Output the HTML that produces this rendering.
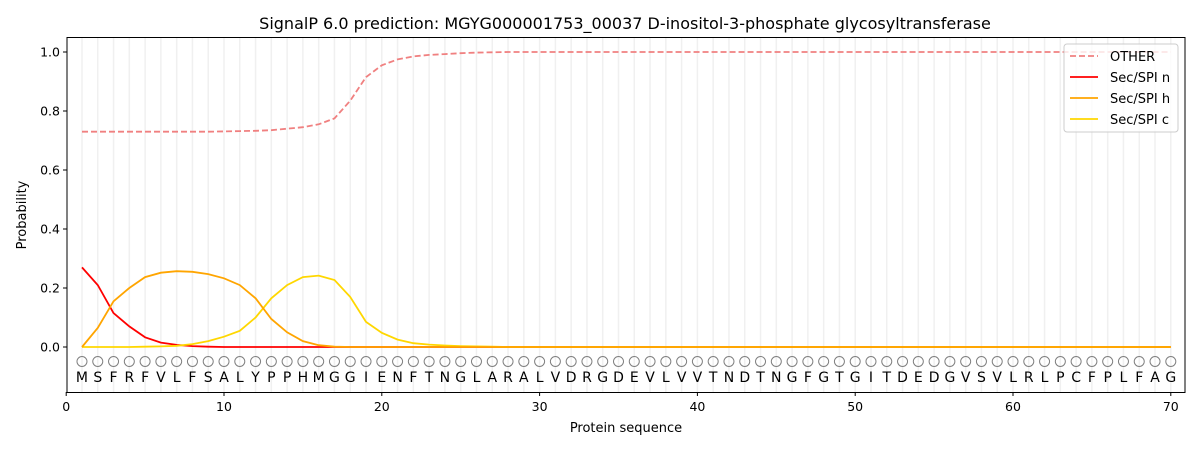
<!DOCTYPE html>
<html><head><meta charset="utf-8"><style>
html,body{margin:0;padding:0;background:#fff;}
svg{display:block;font-family:"DejaVu Sans","Liberation Sans",sans-serif;}
</style></head><body>
<svg id="s" width="1200" height="450" xmlns="http://www.w3.org/2000/svg">
<rect width="1200" height="450" fill="#fff"/>
<g id="grid"></g>
<g id="circ"></g>
<g id="let" font-size="14" fill="#000" text-anchor="middle"></g>
<g id="lines" fill="none" stroke-width="1.8"></g>
<rect x="67" y="37.5" width="1118" height="355" fill="none" stroke="#000" stroke-width="1"/>
<g id="ticks" font-size="12.5" fill="#000"></g>
<text x="625" y="29" font-size="16" text-anchor="middle">SignalP 6.0 prediction: MGYG000001753_00037 D-inositol-3-phosphate glycosyltransferase</text>
<text x="626" y="432" font-size="13" text-anchor="middle">Protein sequence</text>
<text transform="translate(26,215) rotate(-90)" font-size="13" text-anchor="middle">Probability</text>
<g font-size="13">
<rect x="1064" y="44" width="114" height="88" rx="3" fill="#fff" fill-opacity="0.8" stroke="#ccc"/>
<line x1="1070" y1="56" x2="1098" y2="56" stroke="#f08080" stroke-width="1.8" stroke-dasharray="6,3"/>
<text x="1110" y="61">OTHER</text>
<line x1="1070" y1="77" x2="1098" y2="77" stroke="#ff0000" stroke-width="1.8"/>
<text x="1110" y="82">Sec/SPI n</text>
<line x1="1070" y1="98" x2="1098" y2="98" stroke="#ffa500" stroke-width="1.8"/>
<text x="1110" y="103">Sec/SPI h</text>
<line x1="1070" y1="119" x2="1098" y2="119" stroke="#ffd700" stroke-width="1.8"/>
<text x="1110" y="124">Sec/SPI c</text>
</g>
</svg>
<script>
var NS="http://www.w3.org/2000/svg";
function X(i){return 66.2+15.78*i;}
function Y(p){return 347-295*p;}
function el(p,t,a,txt){var e=document.createElementNS(NS,t);for(var k in a)e.setAttribute(k,a[k]);if(txt!==undefined)e.textContent=txt;document.getElementById(p).appendChild(e);return e;}
var seq="MSFRFVLFSALYPPHMGGIENFTNGLARALVDRGDEVLVVTNDTNGFGTGITDEDGVSVLRLPCFPLFAG";
for(var i=1;i<=70;i++){
 el("grid","line",{x1:X(i),x2:X(i),y1:38,y2:392,stroke:"#f0f0f0","stroke-width":1.5});
 el("circ","circle",{cx:X(i),cy:361.5,r:5,fill:"none",stroke:"#808080","stroke-width":1});
 el("let","text",{x:X(i),y:382},seq[i-1]);
}
var oth=[0.73,0.73,0.73,0.73,0.73,0.73,0.73,0.73,0.73,0.731,0.732,0.733,0.735,0.74,0.745,0.755,0.775,0.835,0.915,0.955,0.975,0.985,0.99,0.993,0.996,0.998,0.999];
while(oth.length<70)oth.push(1.0);
var n=[0.27,0.21,0.115,0.07,0.033,0.015,0.007,0.003,0.001];
var h=[0,0.065,0.155,0.2,0.237,0.252,0.257,0.255,0.247,0.233,0.21,0.165,0.095,0.05,0.02,0.006,0.001];
var c=[0,0,0,0,0.001,0.002,0.004,0.01,0.02,0.035,0.055,0.1,0.165,0.21,0.237,0.242,0.227,0.17,0.085,0.048,0.025,0.013,0.008,0.005,0.003,0.002,0.001];
[n,h,c].forEach(function(a){while(a.length<70)a.push(0);});
function path(a,col,dash){var d="";for(var i=0;i<70;i++)d+=(i?"L":"M")+X(i+1).toFixed(1)+","+Y(a[i]).toFixed(1);var at={d:d,stroke:col};if(dash)at["stroke-dasharray"]="6,3";el("lines","path",at);}
path(oth,"#f08080",true);path(n,"#ff0000");path(c,"#ffd700");path(h,"#ffa500");
for(var v=0;v<=5;v++){var p=v*0.2,y=Y(p);
 el("ticks","line",{x1:63,x2:67,y1:y,y2:y,stroke:"#000"});
 el("ticks","text",{x:60,y:y+4.5,"text-anchor":"end"},p.toFixed(1));}
for(var t=0;t<=70;t+=10){var x=X(t);
 el("ticks","line",{x1:x,x2:x,y1:392,y2:396,stroke:"#000"});
 el("ticks","text",{x:x,y:411,"text-anchor":"middle"},String(t));}
</script>
</body></html>
